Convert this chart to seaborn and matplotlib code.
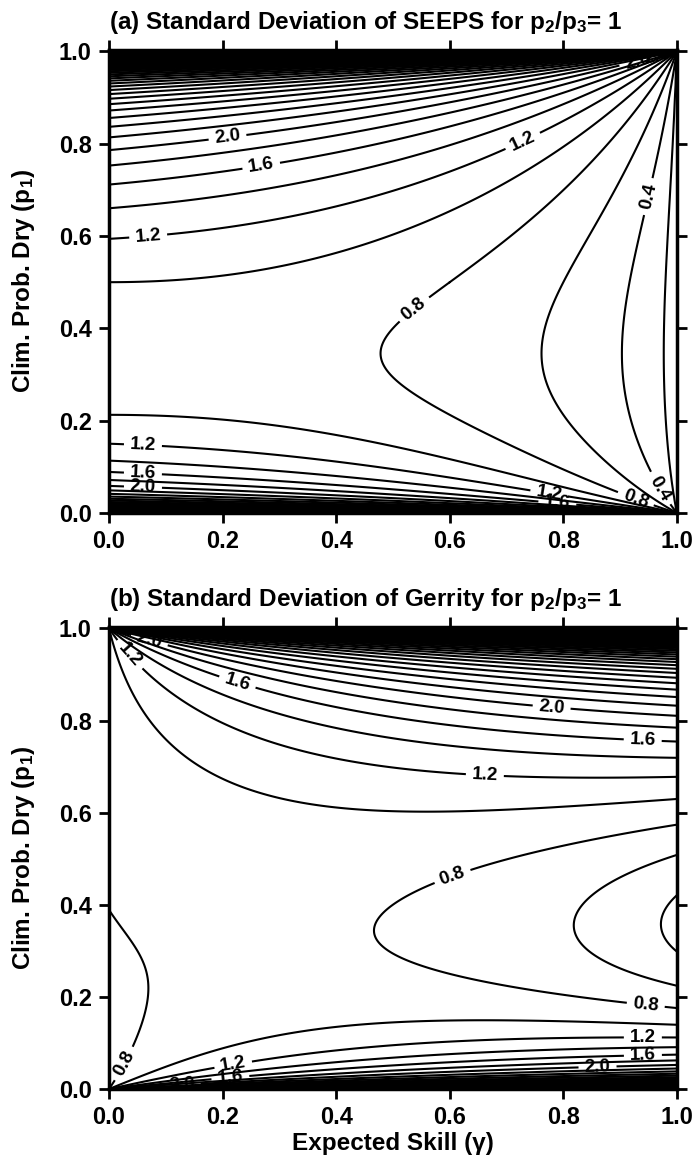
import numpy as np
import matplotlib
matplotlib.use("Agg")
import matplotlib.pyplot as plt
import seaborn as sns

# diagram axes
gamma = np.linspace(0.0, 1.0, 401)          # expected skill
p1 = np.linspace(0.0005, 0.9995, 1999)      # climatological probability of "dry"
p2_over_p3 = 1.0

# contours every 0.2, every second one labelled
levels = np.round(np.arange(1, 201) * 0.2, 1)
label_levels = [0.4, 0.8, 1.2, 1.6, 2.0]
ticks = [0.0, 0.2, 0.4, 0.6, 0.8, 1.0]

# where the contour labels sit (gamma, p1)
labels_seeps = [(0.206, 0.84), (0.267, 0.76), (0.07, 0.585), (0.727, 0.81),
                (0.535, 0.445), (0.944, 0.687), (0.06, 0.153), (0.06, 0.093),
                (0.06, 0.063), (0.776, 0.05), (0.79, 0.03), (0.93, 0.039),
                (0.974, 0.056), (0.93, 0.985), (0.965, 0.99)]
labels_gerrity = [(0.037, 0.944), (0.227, 0.887), (0.072, 0.978), (0.78, 0.838),
                  (0.94, 0.764), (0.662, 0.686), (0.61, 0.444), (0.944, 0.17),
                  (0.022, 0.058), (0.218, 0.058), (0.213, 0.035), (0.128, 0.012),
                  (0.94, 0.121), (0.94, 0.078), (0.86, 0.056)]

titles = ["(a) Standard Deviation of SEEPS for p$_2$/p$_3$= 1",
          "(b) Standard Deviation of Gerrity for p$_2$/p$_3$= 1"]


def probs(p1):
    p3 = (1 - p1) / (1 + p2_over_p3)
    p2 = p2_over_p3 * p3
    return np.array([p1, p2, p3])


def seeps_sd(g, p1):
    p = probs(p1)
    p3 = p[2]
    z = 0 * p1
    S = 0.5 * np.array([[z, 1 / (1 - p1), 1 / p3 + 1 / (1 - p1)],
                        [1 / p1, z, 1 / p3],
                        [1 / p1 + 1 / (1 - p3), 1 / (1 - p3), z]])
    ES2 = np.einsum('in,jn,ijn->n', p, p, S ** 2)
    G, E = np.meshgrid(g, ES2)
    var = (1 - G) * E - (1 - G) ** 2
    return np.sqrt(np.clip(var, 0, None))


def gerrity_sd(g, p1):
    p = probs(p1)
    a1 = (1 - p[0]) / p[0]
    a2 = p[2] / (p[0] + p[1])
    s11 = (a1 + a2) / 2
    s22 = (1 / a1 + a2) / 2
    s33 = (1 / a1 + 1 / a2) / 2
    s12 = (a2 - 1) / 2
    s13 = -1 + 0 * p1
    s23 = (1 / a1 - 1) / 2
    S = np.array([[s11, s12, s13], [s12, s22, s23], [s13, s23, s33]])
    D = np.einsum('in,iin->n', p, S ** 2)
    R = np.einsum('in,jn,ijn->n', p, p, S ** 2)
    G, Dm = np.meshgrid(g, D)
    _, Rm = np.meshgrid(g, R)
    var = G * Dm + (1 - G) * Rm - G ** 2
    return np.sqrt(np.clip(var, 0, None))


sns.set_theme(style="ticks")
plt.rcParams['font.family'] = ['Liberation Sans', 'DejaVu Sans']
plt.rcParams['font.weight'] = 'bold'
plt.rcParams['text.color'] = 'black'
plt.rcParams['axes.labelcolor'] = 'black'
plt.rcParams['xtick.color'] = 'black'
plt.rcParams['ytick.color'] = 'black'
plt.rcParams['mathtext.fontset'] = 'custom'
plt.rcParams['mathtext.rm'] = 'Liberation Sans:bold'
plt.rcParams['mathtext.it'] = 'Liberation Sans:bold:italic'
plt.rcParams['mathtext.bf'] = 'Liberation Sans:bold'

fig = plt.figure(figsize=(6.96, 11.62), dpi=100)
ax_a = fig.add_axes([0.1566, 0.5585, 0.816, 0.3985])
ax_b = fig.add_axes([0.1566, 0.0628, 0.816, 0.3976])

fields = [seeps_sd(gamma, p1), gerrity_sd(gamma, p1)]
positions = [labels_seeps, labels_gerrity]
plain_levels = [lv for lv in levels if lv not in label_levels]

for ax, sd, pos, title in zip([ax_a, ax_b], fields, positions, titles):
    ax.contour(gamma, p1, sd, levels=plain_levels, colors='black', linewidths=1.5)
    cs = ax.contour(gamma, p1, sd, levels=label_levels, colors='black', linewidths=1.5)
    ax.clabel(cs, manual=pos, inline=True, fmt='%.1f',
              fontsize=13.5, inline_spacing=6)
    ax.set_xlim(0, 1)
    ax.set_ylim(0, 1.003)
    ax.set_xticks(ticks)
    ax.set_yticks(ticks)
    ax.set_xticklabels(['%.1f' % t for t in ticks])
    ax.set_yticklabels(['%.1f' % t for t in ticks])
    ax.tick_params(direction='out', length=7, width=2, labelsize=17, pad=5.5,
                   top=True, right=True)
    for s in ax.spines.values():
        s.set_linewidth(2.5)
        s.set_color('black')
    ax.set_title(title, loc='left', fontsize=17.5, fontweight='bold', pad=15)
    ax.set_ylabel("Clim. Prob. Dry (p$_1$)", fontsize=17.5, fontweight='bold')
    ax.yaxis.set_label_coords(-0.127, 0.5)

ax_b.set_xlabel("Expected Skill (γ)", fontsize=17.5, fontweight='bold')
ax_b.xaxis.set_label_coords(0.5, -0.093)

fig.savefig('out.png', dpi=100)
